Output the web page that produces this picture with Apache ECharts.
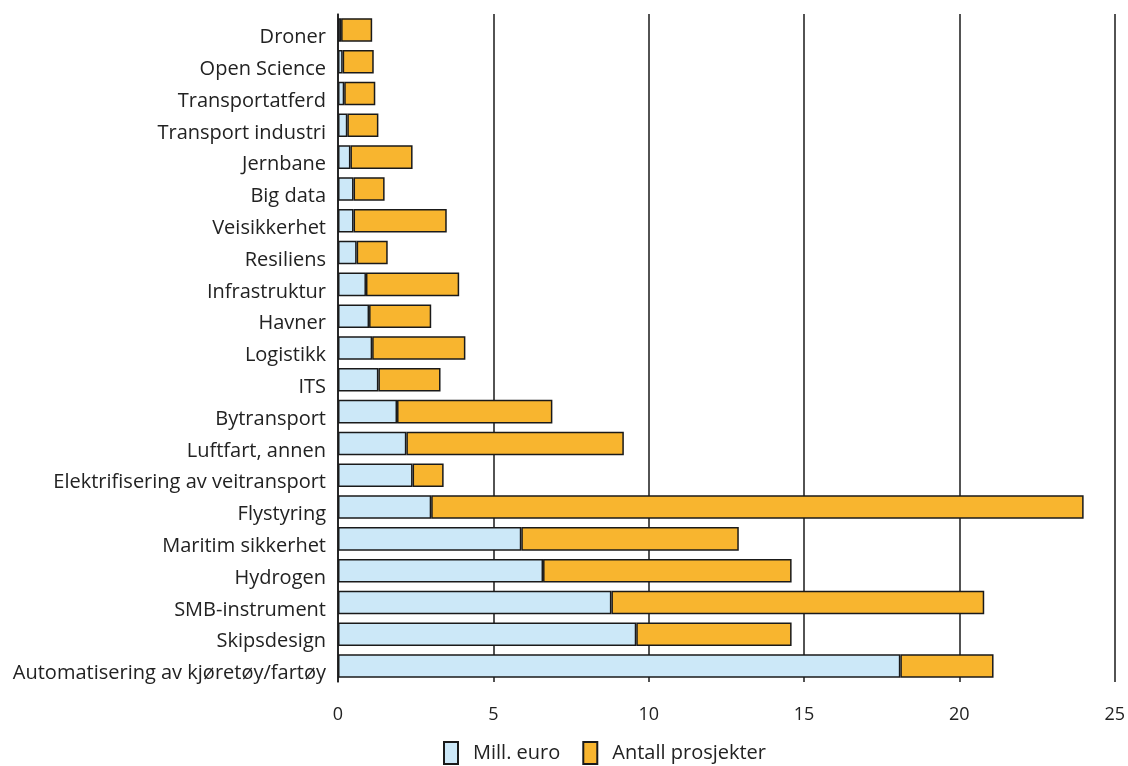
<!DOCTYPE html>
<html>
<head>
<meta charset="utf-8">
<script src="https://cdn.jsdelivr.net/npm/echarts@6/dist/echarts.min.js"></script>
<style>
  html, body { margin: 0; padding: 0; background: #fff; }
  #chart { width: 1128px; height: 766px; }
</style>
</head>
<body>
<div id="chart"></div>
<script>
var categories = [
  'Droner', 'Open Science', 'Transportatferd', 'Transport industri', 'Jernbane',
  'Big data', 'Veisikkerhet', 'Resiliens', 'Infrastruktur', 'Havner', 'Logistikk',
  'ITS', 'Bytransport', 'Luftfart, annen', 'Elektrifisering av veitransport',
  'Flystyring', 'Maritim sikkerhet', 'Hydrogen', 'SMB-instrument', 'Skipsdesign',
  'Automatisering av kjøretøy/fartøy'
];
var millEuro = [0.1, 0.15, 0.2, 0.3, 0.4, 0.5, 0.5, 0.6, 0.9, 1.0, 1.1,
  1.3, 1.9, 2.2, 2.4, 3.0, 5.9, 6.6, 8.8, 9.6, 18.1];
var antallProsjekter = [1, 1, 1, 1, 2, 1, 3, 1, 3, 2, 3,
  2, 5, 7, 1, 21, 7, 8, 12, 5, 3];
var xTicks = [0, 5, 10, 15, 20, 25];

var chart = echarts.init(document.getElementById('chart'), null, { renderer: 'canvas' });
var font = 'Open Sans';
var option = {
  animation: false,
  textStyle: { fontFamily: font },
  grid: { left: 338, right: 13, top: 14, bottom: 84, containLabel: false },
  legend: {
    left: 443,
    top: 741,
    padding: 0,
    icon: 'rect',
    itemWidth: 14,
    itemHeight: 22,
    itemGap: 22,
    textStyle: { fontFamily: font, fontSize: 20, color: '#222', padding: [0, 0, 0, 10], lineHeight: 22 },
    data: ['Mill. euro', 'Antall prosjekter']
  },
  xAxis: {
    type: 'value',
    min: xTicks[0],
    max: xTicks[xTicks.length - 1],
    interval: 5,
    axisLine: { show: false },
    axisTick: { show: false },
    axisLabel: { fontFamily: font, fontSize: 18, color: '#222', margin: 24 },
    splitLine: { show: true, lineStyle: { color: '#1a1a1a', width: 1.5 } }
  },
  yAxis: {
    type: 'category',
    data: categories,
    inverse: true,
    axisLine: { show: true, lineStyle: { color: '#1a1a1a', width: 1.5 } },
    axisTick: { show: false },
    axisLabel: {
      margin: 12,
      formatter: function (v) { return '{a|' + v + '}'; },
      rich: {
        a: { fontFamily: font, fontSize: 20, color: '#222', padding: [15, 0, 0, 0] }
      }
    }
  },
  series: [
    {
      name: 'Mill. euro',
      type: 'bar',
      stack: 'total',
      barCategoryGap: '26%',
      data: millEuro,
      itemStyle: { color: '#cce8f8', borderColor: '#1a1a1a', borderWidth: 1.5 }
    },
    {
      name: 'Antall prosjekter',
      type: 'bar',
      stack: 'total',
      barCategoryGap: '26%',
      data: antallProsjekter,
      itemStyle: { color: '#f8b52f', borderColor: '#1a1a1a', borderWidth: 1.5 }
    }
  ]
};
chart.setOption(option);
</script>
</body>
</html>
